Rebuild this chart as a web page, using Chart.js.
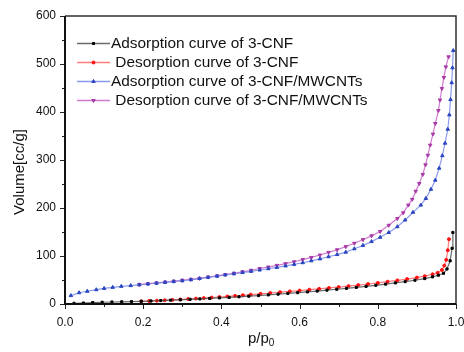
<!DOCTYPE html>
<html>
<head>
<meta charset="utf-8">
<script src="https://cdn.jsdelivr.net/npm/chart.js@4.4.1/dist/chart.umd.min.js"></script>
<style>
    html, body { margin: 0; padding: 0; background: #fff; }
    canvas { display: block; }
</style>
</head>
<body>
<canvas id="isoChart" width="464" height="352"></canvas>
<script>
// Dữ liệu
const seriesLabels = [
    'Adsorption curve of 3-CNF',
    ' Desorption curve of 3-CNF',
    'Adsorption curve of 3-CNF/MWCNTs',
    ' Desorption curve of 3-CNF/MWCNTs'
];

const adsCnfX = [0.023, 0.047, 0.071, 0.095, 0.12, 0.145, 0.17, 0.195, 0.22, 0.245, 0.27, 0.295, 0.32, 0.345, 0.37, 0.395, 0.42, 0.445, 0.47, 0.495, 0.52, 0.545, 0.57, 0.595, 0.62, 0.645, 0.67, 0.695, 0.72, 0.745, 0.77, 0.795, 0.82, 0.845, 0.87, 0.895, 0.92, 0.94, 0.955, 0.968, 0.977, 0.985, 0.99, 0.992];
const adsCnfY = [1.4, 2.0, 3.0, 3.6, 4.2, 4.6, 5.0, 5.6, 6.3, 7.2, 8.0, 8.8, 9.7, 10.6, 11.6, 12.7, 13.8, 15.0, 16.3, 17.6, 19.0, 20.5, 22.0, 23.6, 25.2, 27.0, 28.8, 30.7, 32.6, 34.6, 36.7, 39.0, 41.4, 44.0, 46.6, 49.5, 53.0, 56.5, 60, 64, 73, 90, 116, 149];

const desCnfX = [0.195, 0.215, 0.235, 0.255, 0.275, 0.295, 0.315, 0.335, 0.355, 0.375, 0.395, 0.415, 0.435, 0.455, 0.475, 0.5, 0.525, 0.55, 0.575, 0.6, 0.625, 0.65, 0.675, 0.7, 0.725, 0.75, 0.775, 0.8, 0.825, 0.85, 0.875, 0.9, 0.92, 0.94, 0.953, 0.964, 0.97, 0.975, 0.979, 0.982];
const desCnfY = [5.6, 6.3, 7.0, 7.8, 8.6, 9.5, 10.4, 11.3, 12.3, 13.4, 14.6, 15.7, 16.9, 18.2, 19.5, 21.2, 22.9, 24.6, 26.3, 28.0, 29.8, 31.6, 33.4, 35.3, 37.3, 39.4, 41.6, 44.0, 46.5, 49.2, 52.0, 55.0, 58, 62, 65, 71, 80, 92, 112, 135];

const adsMwX = [0.015, 0.036, 0.057, 0.08, 0.1, 0.122, 0.144, 0.168, 0.19, 0.212, 0.234, 0.256, 0.278, 0.3, 0.322, 0.344, 0.366, 0.389, 0.41, 0.432, 0.454, 0.476, 0.498, 0.52, 0.542, 0.564, 0.586, 0.608, 0.63, 0.652, 0.674, 0.696, 0.718, 0.74, 0.762, 0.784, 0.806, 0.828, 0.85, 0.87, 0.89, 0.91, 0.923, 0.936, 0.947, 0.957, 0.965, 0.972, 0.979, 0.983, 0.986, 0.989, 0.991, 0.993];
const adsMwY = [17.5, 23.5, 26.5, 29.8, 32.5, 34.7, 36.8, 38.3, 40, 41.7, 43.3, 45, 46.7, 48.4, 50.5, 53, 55.5, 58, 60.5, 63, 65.5, 68, 70.8, 73.5, 76.3, 79.3, 82.5, 86, 90, 94, 98.5, 103, 108, 115, 122, 130, 139, 149, 161, 175, 191, 206, 220, 239, 258, 283, 309, 335, 364, 394, 426, 461, 492, 528];

const desMwX = [0.19, 0.212, 0.234, 0.256, 0.278, 0.3, 0.322, 0.344, 0.366, 0.389, 0.41, 0.432, 0.454, 0.476, 0.498, 0.52, 0.542, 0.564, 0.586, 0.608, 0.63, 0.652, 0.674, 0.696, 0.718, 0.74, 0.762, 0.784, 0.806, 0.828, 0.85, 0.865, 0.878, 0.888, 0.897, 0.906, 0.915, 0.922, 0.928, 0.934, 0.941, 0.947, 0.955, 0.959, 0.964, 0.969, 0.974, 0.981];
const desMwY = [40.5, 42.3, 44, 45.8, 47.6, 49.5, 51.4, 53.4, 56, 58.7, 61.3, 64, 67, 70.3, 74, 77, 80.5, 84, 88, 92.5, 97, 102, 107.5, 113, 119.5, 126.5, 134, 142, 151, 164, 178, 190, 206, 218, 235, 251, 270, 290, 310, 331, 354, 376, 403, 425, 449, 472, 494, 515];

const xTicks = [0, 0.2, 0.4, 0.6, 0.8, 1.0];
const yTicks = [0, 100, 200, 300, 400, 500, 600];

function toPoints(xs, ys) {
    return xs.map(function (x, i) { return { x: x, y: ys[i] }; });
}

// Vẽ khung, vạch chia, tiêu đề trục và chú giải
const framePlugin = {
    id: 'frame',
    afterDraw: function (chart) {
        const ctx = chart.ctx;
        const a = chart.chartArea;
        const xs = chart.scales.x;
        const ys = chart.scales.y;
        ctx.save();

        // ticks
        ctx.strokeStyle = '#222';
        ctx.lineWidth = 1;
        for (let v = 0; v <= 600; v += 50) {
            const py = Math.round(ys.getPixelForValue(v)) + 0.5;
            const len = v % 100 === 0 ? 5 : 3;
            ctx.beginPath();
            ctx.moveTo(a.left - len, py);
            ctx.lineTo(a.left, py);
            ctx.stroke();
        }
        for (let i = 0; i <= 10; i++) {
            const px = Math.round(xs.getPixelForValue(i / 10)) + 0.5;
            const len = i % 2 === 0 ? 5 : 3;
            ctx.beginPath();
            ctx.moveTo(px, a.bottom);
            ctx.lineTo(px, a.bottom + len);
            ctx.stroke();
        }

        // frame
        ctx.strokeStyle = '#333';
        ctx.lineWidth = 1.5;
        ctx.beginPath();
        ctx.moveTo(a.left, a.top);
        ctx.lineTo(a.right, a.top);
        ctx.lineTo(a.right, a.bottom);
        ctx.stroke();
        ctx.strokeStyle = '#111';
        ctx.lineWidth = 2;
        ctx.beginPath();
        ctx.moveTo(a.left, a.top);
        ctx.lineTo(a.left, a.bottom);
        ctx.lineTo(a.right, a.bottom);
        ctx.stroke();

        // axis titles
        ctx.fillStyle = '#111';
        ctx.font = '15px "Liberation Sans", Arial, sans-serif';
        ctx.textBaseline = 'middle';
        ctx.textAlign = 'center';
        ctx.save();
        ctx.translate(20, 172);
        ctx.rotate(-Math.PI / 2);
        ctx.fillText('Volume[cc/g]', 0, 0);
        ctx.restore();

        ctx.textAlign = 'left';
        ctx.textBaseline = 'alphabetic';
        ctx.fillText('p/p', 248, 343);
        const w = ctx.measureText('p/p').width;
        ctx.font = '10px "Liberation Sans", Arial, sans-serif';
        ctx.fillText('0', 248 + w, 346);

        // legend
        ctx.font = '15.4px "Liberation Sans", Arial, sans-serif';
        ctx.textBaseline = 'middle';
        chart.data.datasets.forEach(function (ds, i) {
            const y = 43.5 + i * 19;
            ctx.strokeStyle = ds.borderColor;
            ctx.lineWidth = 1.5;
            ctx.beginPath();
            ctx.moveTo(77, y);
            ctx.lineTo(110, y);
            ctx.stroke();
            ctx.fillStyle = ds.pointBackgroundColor;
            ctx.strokeStyle = ds.pointBorderColor;
            ctx.lineWidth = 1;
            Chart.helpers.drawPoint(ctx, {
                pointStyle: ds.pointStyle,
                radius: ds.pointRadius,
                rotation: ds.pointRotation || 0,
                borderWidth: 1
            }, 93.5, y);
            ctx.fillStyle = '#111';
            ctx.fillText(ds.label, 111, y);
        });
        ctx.restore();
    }
};

function makeSet(label, xs, ys, line, point, style, radius, rotation) {
    return {
        label: label,
        data: toPoints(xs, ys),
        showLine: true,
        borderColor: line,
        borderWidth: 1.2,
        pointBackgroundColor: point,
        pointBorderColor: point,
        pointBorderWidth: 1,
        pointStyle: style,
        pointRadius: radius,
        pointRotation: rotation,
        tension: 0
    };
}

new Chart(document.getElementById('isoChart'), {
    type: 'scatter',
    data: {
        datasets: [
            makeSet(seriesLabels[0], adsCnfX, adsCnfY, 'rgba(70,70,70,0.8)', '#000', 'rect', 1.5, 0),
            makeSet(seriesLabels[1], desCnfX, desCnfY, 'rgba(255,80,80,0.75)', '#ff1010', 'circle', 1.5, 0),
            makeSet(seriesLabels[2], adsMwX, adsMwY, 'rgba(110,130,230,0.8)', '#2a45c0', 'triangle', 2, 0),
            makeSet(seriesLabels[3], desMwX, desMwY, 'rgba(200,100,200,0.85)', '#a83aa8', 'triangle', 2, 180)
        ]
    },
    options: {
        responsive: false,
        animation: false,
        layout: { padding: { top: 16, right: 8, left: 0, bottom: 0 } },
        plugins: {
            legend: { display: false },
            tooltip: { enabled: false }
        },
        scales: {
            x: {
                type: 'linear',
                min: 0,
                max: 1,
                afterBuildTicks: function (scale) {
                    scale.ticks = xTicks.map(function (v) { return { value: v }; });
                },
                afterFit: function (scale) {
                    scale.height = 48;
                    scale.paddingLeft = 0;
                    scale.paddingRight = 0;
                },
                grid: { display: false, drawTicks: false },
                border: { display: false },
                ticks: {
                    padding: 11,
                    color: '#111',
                    font: { family: '"Liberation Sans", Arial, sans-serif', size: 12 },
                    maxRotation: 0,
                    callback: function (v) { return Number(v).toFixed(1); }
                }
            },
            y: {
                type: 'linear',
                min: 0,
                max: 600,
                afterBuildTicks: function (scale) {
                    scale.ticks = yTicks.map(function (v) { return { value: v }; });
                },
                afterFit: function (scale) {
                    scale.width = 65;
                    scale.paddingTop = 0;
                    scale.paddingBottom = 0;
                },
                grid: { display: false, drawTicks: false },
                border: { display: false },
                ticks: {
                    padding: 9,
                    color: '#111',
                    font: { family: '"Liberation Sans", Arial, sans-serif', size: 12 },
                    callback: function (v) { return String(v); }
                }
            }
        }
    },
    plugins: [framePlugin]
});
</script>
</body>
</html>
